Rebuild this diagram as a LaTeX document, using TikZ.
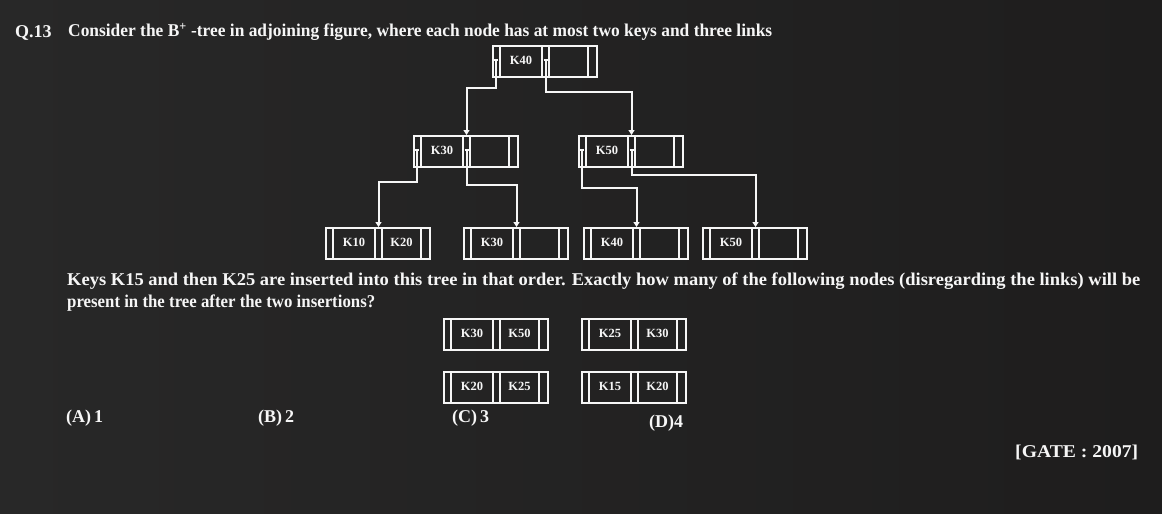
\documentclass[tikz,border=0pt]{standalone}
\usepackage{fontspec}
\setmainfont{Liberation Serif}
\usepackage{graphicx}
\usetikzlibrary{arrows.meta}
\definecolor{bgl}{RGB}{40,40,40}
\definecolor{bgm}{RGB}{19,18,18}
\definecolor{bgr}{RGB}{30,29,29}
\definecolor{ink}{RGB}{246,246,246}
\tikzset{
  box/.style={draw=ink, line width=2pt, minimum width=104pt, minimum height=31pt, inner sep=0pt, anchor=north west},
  cell/.style={draw=ink, line width=2pt},
  keylbl/.style={text=ink, font=\bfseries\fontsize{12.5}{12.5}\selectfont, inner sep=0pt},
  conn/.style={draw=ink, line width=2pt, -{Triangle[width=6pt,length=5pt]}},
  ptrtick/.style={draw=ink, line width=1.4pt},
  txt/.style={text=ink, font=\bfseries\fontsize{18}{18}\selectfont, inner sep=0pt, anchor=base west},
}
\newcommand\bnode[5]{%
  \node[box] (#1) at (#2,#3) {};
  \draw[cell] (#2+8,#3) -- ++(0,31) (#2+50,#3) -- ++(0,31)
              (#2+57,#3) -- ++(0,31) (#2+96,#3) -- ++(0,31);
  \node[keylbl] (#1-a) at (#2+29,#3+15.5) {#4};
  \if\relax\detokenize{#5}\relax\else
    \node[keylbl] (#1-b) at (#2+76.5,#3+15.5) {#5};
  \fi
  \coordinate (#1-p1) at (#2+4,#3+15);
  \coordinate (#1-p2) at (#2+53.5,#3+15);
  \coordinate (#1-t) at (#2+53.5,#3);
}
\begin{document}
\begin{tikzpicture}[x=1pt,y=-1pt]
  \shade[left color=bgl, middle color=bgm, right color=bgr] (0,0) rectangle (1162,514);
  \useasboundingbox (0,0) rectangle (1162,514);

  % texts
  \node[txt] (qn) at (15,37) {Q.13};
  \node[txt] (t1) at (68,37) {\resizebox{704pt}{\height}{Consider the B\textsuperscript{+} -tree in adjoining figure, where each node has at most two keys and three links}};
  \node[txt] (t2) at (67,285) {\resizebox{1073pt}{\height}{Keys K15 and then K25 are inserted into this tree in that order. Exactly how many of the following nodes (disregarding the links) will be}};
  \node[txt] (t3) at (67,307) {\resizebox{308pt}{\height}{present in the tree after the two insertions?}};

  % tree
  \bnode{r}{492}{45}{K40}{}
  \bnode{a}{413}{135}{K30}{}
  \bnode{b}{578}{135}{K50}{}
  \bnode{l1}{325}{227}{K10}{K20}
  \bnode{l2}{463}{227}{K30}{}
  \bnode{l3}{583}{227}{K40}{}
  \bnode{l4}{702}{227}{K50}{}

  \draw[conn] (r-p1) -- ++(0,28) -| (a-t);
  \draw[conn] (r-p2) -- ++(0,32) -| (b-t);
  \draw[conn] (a-p1) -- ++(0,32) -| (l1-t);
  \draw[conn] (a-p2) -- ++(0,35) -| (l2-t);
  \draw[conn] (b-p1) -- ++(0,38) -| (l3-t);
  \draw[conn] (b-p2) -- ++(0,25) -| (l4-t);
  \foreach \p in {r-p1,r-p2,a-p1,a-p2,b-p1,b-p2}
    \draw[ptrtick] ([xshift=-2pt]\p) -- ([xshift=2pt]\p);

  % option nodes
  \bnode{o1}{443}{318}{K30}{K50}
  \bnode{o2}{581}{318}{K25}{K30}
  \bnode{o3}{443}{371}{K20}{K25}
  \bnode{o4}{581}{371}{K15}{K20}

  \node[txt] (oa) at (66,422) {(A)\,1};
  \node[txt] (ob) at (258,422) {(B)\,2};
  \node[txt] (oc) at (452,422) {(C)\,3};
  \node[txt] (od) at (649,427) {(D)4};
  \node[txt] (gate) at (1015,457) {\resizebox{123pt}{\height}{[GATE : 2007]}};
\end{tikzpicture}
\end{document}
